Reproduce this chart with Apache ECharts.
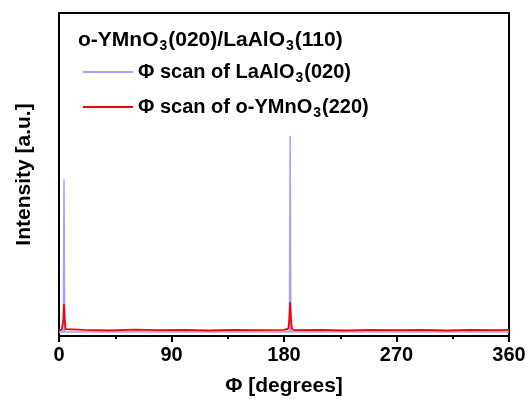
<!DOCTYPE html>
<html>
<head>
<meta charset="utf-8">
<script src="https://cdn.jsdelivr.net/npm/echarts@6/dist/echarts.min.js"></script>
<style>
html,body{margin:0;padding:0;background:#fff;}
#main{width:532px;height:402px;}
</style>
</head>
<body>
<div id="main"></div>
<script>
// phi scan data (intensity in arbitrary units, 0..100)
var xTicks = [0, 90, 180, 270, 360];
var laalo3Scan = [
	[0, 1.2], [3.4, 1.2], [4, 48.5], [4.6, 1.2], [184.3, 1.2], [184.9, 62], [185.5, 1.2], [360, 1.2]
];
var ymno3Scan = [
	[0, 1.9], [1, 2.4], [2, 1.8], [3, 2.2], [3.5, 5], [4, 9.8], [4.6, 5], [5.2, 2.1], [6, 1.8],
	[20, 1.9], [40, 1.7], [60, 2.0], [80, 1.8], [100, 1.9], [120, 1.7], [140, 1.9], [160, 1.8],
	[180, 1.9], [183.5, 2.3], [184.3, 5.5], [184.9, 10.4], [185.5, 5.5], [186.3, 2.2], [188, 1.8],
	[210, 1.9], [230, 1.7], [250, 1.9], [270, 1.8], [290, 1.9], [310, 1.7], [330, 1.9], [350, 1.8], [360, 1.9]
];

function createchart() {
	var myChart = echarts.init(document.getElementById('main'));
	var font = 'Liberation Sans, Arial, sans-serif';
	var sub = { fontSize: 14, fontWeight: 'bold', fontFamily: font, color: '#000', padding: [12, 1, 0, 1] };
	var option = {
		animation: false,
		title: {
			left: 73,
			top: 22,
			text: 'o-YMnO{s|3}(020)/LaAlO{s|3}(110)',
			textStyle: {
				fontSize: 21, fontWeight: 'bold', fontFamily: font, color: '#000',
				rich: { s: sub }
			}
		},
		legend: {
			orient: 'vertical',
			left: 78,
			top: 57,
			itemGap: 12,
			icon: 'rect',
			itemWidth: 50,
			itemHeight: 2,
			data: ['la', 'ym'],
			formatter: function(name) {
				return name == 'la' ? 'Φ scan of LaAlO{s|3}(020)' : 'Φ scan of o-YMnO{s|3}(220)';
			},
			textStyle: {
				fontSize: 20, fontWeight: 'bold', fontFamily: font, color: '#000',
				rich: { s: sub }
			}
		},
		grid: {
			left: 59, right: 23, top: 13, bottom: 63,
			show: true, borderColor: '#000', borderWidth: 2
		},
		xAxis: {
			type: 'value',
			min: 0, max: 360, interval: 90,
			name: 'Φ [degrees]',
			nameLocation: 'middle',
			nameGap: 40,
			nameTextStyle: { fontSize: 21, fontWeight: 'bold', fontFamily: font, color: '#000' },
			axisLine: { show: true, lineStyle: { color: '#000', width: 2 } },
			axisTick: { show: true, inside: false, length: 6, lineStyle: { color: '#000', width: 2 } },
			minorTick: { show: true, splitNumber: 2, length: 3, lineStyle: { color: '#000', width: 2 } },
			axisLabel: {
				fontSize: 20, fontWeight: 'bold', fontFamily: font, color: '#000', margin: 9,
				formatter: function(v) { return xTicks.indexOf(v) >= 0 ? String(v) : ''; }
			},
			splitLine: { show: false }
		},
		yAxis: {
			type: 'value',
			min: 0, max: 100,
			name: 'Intensity [a.u.]',
			nameLocation: 'middle',
			nameGap: 24,
			nameTextStyle: { fontSize: 21, fontWeight: 'bold', fontFamily: font, color: '#000' },
			axisLine: { show: true, lineStyle: { color: '#000', width: 2 } },
			axisTick: { show: false },
			axisLabel: { show: false },
			splitLine: { show: false }
		},
		series: [
			{
				name: 'la', type: 'line', data: laalo3Scan, showSymbol: false, symbol: 'none',
				lineStyle: { color: '#a3a3ff', width: 1.5 }, itemStyle: { color: '#a3a3ff' }, z: 2
			},
			{
				name: 'ym', type: 'line', data: ymno3Scan, showSymbol: false, symbol: 'none',
				lineStyle: { color: '#ff0000', width: 1.8 }, itemStyle: { color: '#ff0000' }, z: 3
			}
		]
	};
	myChart.setOption(option);
}
createchart();
</script>
</body>
</html>
